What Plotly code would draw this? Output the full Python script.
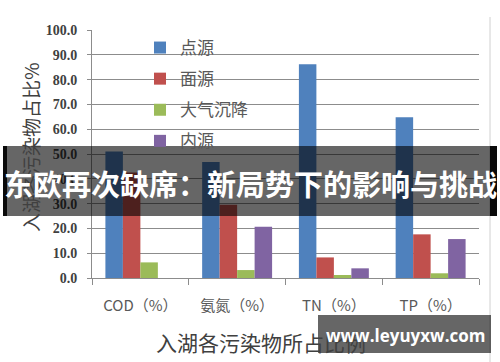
import plotly.graph_objects as go

categories = ["COD（%）", "氨氮（%）", "TN（%）", "TP（%）"]
point_src = [51.0, 46.8, 86.2, 64.8]
nonpoint_src = [42.5, 29.5, 8.3, 17.6]
atmos_dep = [6.3, 3.2, 1.2, 1.9]
internal_src = [0.0, 20.7, 3.9, 15.7]
series_names = ["点源", "面源", "大气沉降", "内源"]
series_colors = ["#4F81BD", "#C0504D", "#9BBB59", "#8064A2"]
y_ticks = [0, 10, 20, 30, 40, 50, 60, 70, 80, 90, 100]
y_title = "入湖各污染物占比%"
x_title = "入湖各污染物所占比例"
banner_text = "东欧再次缺席：新局势下的影响与挑战"
watermark = "www.leyuyxw.com"

W, H = 500, 362
L, R, T, B = 92, 21, 30, 84


def px_x(x):
    return (x - L) / (W - L - R)


def px_y(y):
    return 1 - (y - T) / (H - T - B)


fig = go.Figure()
for i, (name, vals, col) in enumerate(zip(series_names,
                                          [point_src, nonpoint_src, atmos_dep, internal_src],
                                          series_colors)):
    fig.add_trace(go.Bar(x=categories, y=vals, name=name, marker_color=col,
                         marker_line_width=0, legendgroup=f"g{i}"))

fig.update_layout(
    width=W, height=H,
    margin=dict(l=L, r=R, t=T, b=B),
    paper_bgcolor="white", plot_bgcolor="white",
    barmode="group", bargap=0.277, bargroupgap=0,
    font=dict(family="Noto Sans CJK SC", color="#595959"),
    showlegend=True,
    legend=dict(x=px_x(140), y=px_y(30), xanchor="left", yanchor="top",
                bgcolor="rgba(0,0,0,0)", tracegroupgap=6,
                font=dict(size=17, color="#595959", family="Noto Sans CJK SC"),
                itemwidth=30, traceorder="grouped"),
)
fig.update_yaxes(range=[0, 100], tickvals=y_ticks,
                 ticktext=[f"{v:.1f}" for v in y_ticks],
                 showgrid=True, gridcolor="#8c8c8c", gridwidth=1,
                 showline=True, linecolor="#8c8c8c", linewidth=1,
                 ticks="outside", ticklen=4, tickcolor="#8c8c8c",
                 ticklabelstandoff=7,
                 tickfont=dict(family="Liberation Serif", size=14, color="#404040", weight="bold"),
                 zeroline=False)
fig.update_xaxes(showline=True, linecolor="#8c8c8c", linewidth=1,
                 ticks="outside", ticklen=6, tickcolor="#8c8c8c", tickson="boundaries",
                 ticklabelstandoff=14,
                 tickfont=dict(family="Noto Sans CJK SC", size=15, color="#595959"))

# axis titles
fig.add_annotation(text=y_title, xref="paper", yref="paper",
                   x=px_x(30), y=px_y(147), xanchor="center", yanchor="middle",
                   textangle=-90, showarrow=False,
                   font=dict(size=19, color="#404040", family="Noto Sans CJK SC"))
fig.add_annotation(text=x_title, xref="paper", yref="paper",
                   x=px_x(261), y=px_y(342), xanchor="center", yanchor="middle",
                   showarrow=False,
                   font=dict(size=21, color="#404040", family="Noto Sans CJK SC"))

# right chart border
fig.add_shape(type="line", xref="paper", yref="paper",
              x0=px_x(490), x1=px_x(490), y0=px_y(362), y1=px_y(17),
              line=dict(color="#d0d0d0", width=1), layer="below")

# banner overlay
fig.add_shape(type="rect", xref="paper", yref="paper",
              x0=px_x(3), x1=px_x(497), y0=px_y(216), y1=px_y(146),
              fillcolor="rgba(0,0,0,0.6)", line_width=0, layer="above")
fig.add_shape(type="rect", xref="paper", yref="paper",
              x0=px_x(3), x1=px_x(7), y0=px_y(216), y1=px_y(146),
              fillcolor="rgba(0,0,0,0.9)", line_width=0, layer="above")
fig.add_shape(type="rect", xref="paper", yref="paper",
              x0=px_x(490), x1=px_x(497), y0=px_y(216), y1=px_y(146),
              fillcolor="rgba(0,0,0,0.9)", line_width=0, layer="above")
fig.add_annotation(text=f"<b>{banner_text}</b>", xref="paper", yref="paper",
                   x=px_x(250), y=px_y(183), xanchor="center", yanchor="middle",
                   showarrow=False,
                   font=dict(size=29, color="white", family="Noto Sans CJK SC"))

# watermark
fig.add_shape(type="rect", xref="paper", yref="paper",
              x0=px_x(318), x1=px_x(491), y0=px_y(353), y1=px_y(315),
              fillcolor="rgba(0,0,0,0.6)", line_width=0, layer="above")
fig.add_annotation(text=f"<b>{watermark}</b>", xref="paper", yref="paper",
                   x=px_x(405), y=px_y(335), xanchor="center", yanchor="middle",
                   showarrow=False,
                   font=dict(size=17, color="white", family="Open Sans"))

fig.write_html("out.html", config={"displayModeBar": False},
               post_script="document.body.style.margin='0';document.body.style.overflow='hidden';")
